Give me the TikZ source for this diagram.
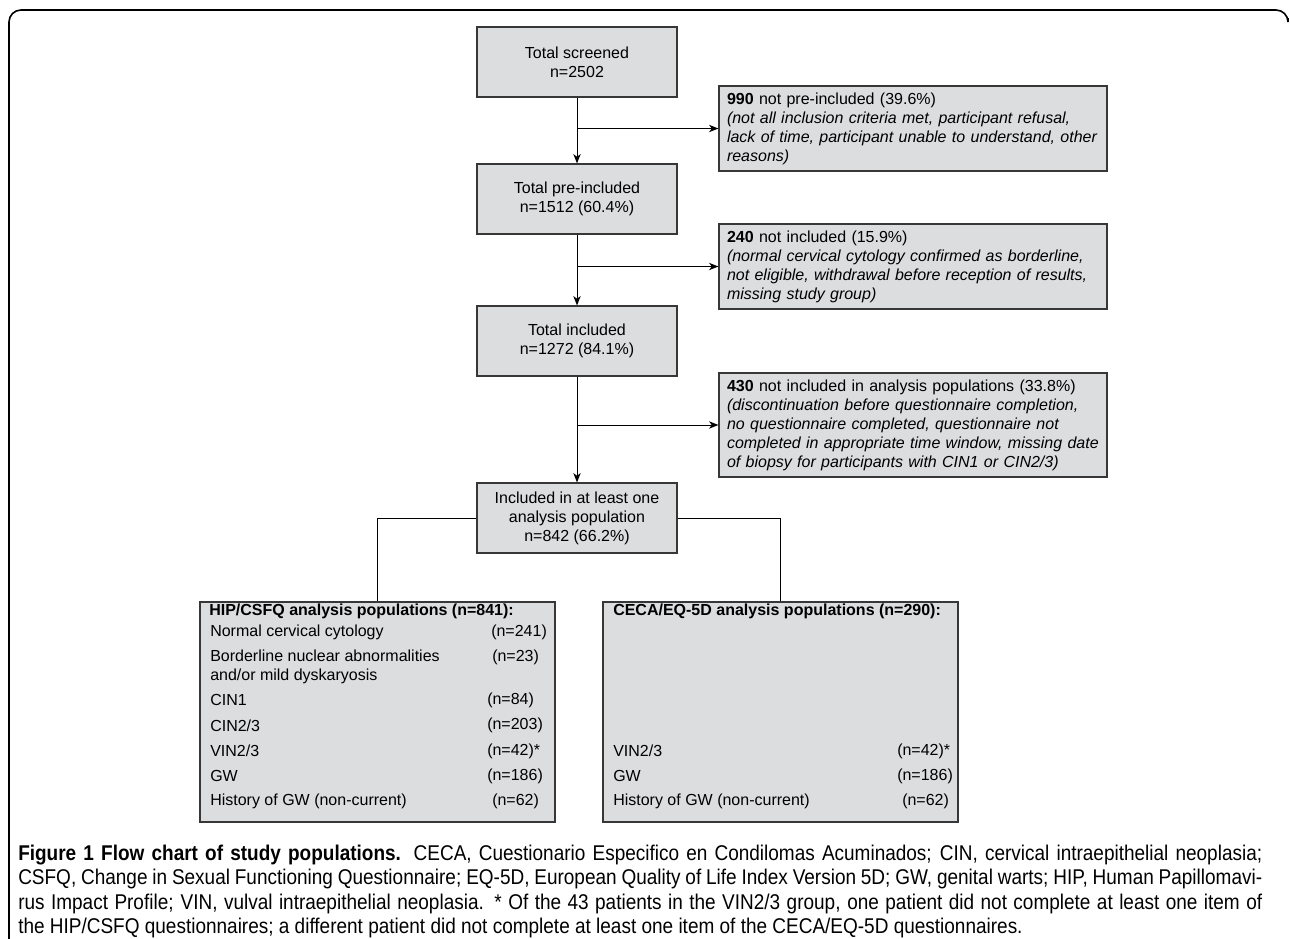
\documentclass[tikz,border=0pt]{standalone}
\usepackage{fontspec}
\setmainfont{Liberation Sans}
\newfontfamily\capfont{Liberation Sans}[FakeStretch=0.89]
\usetikzlibrary{arrows.meta}

\definecolor{boxfill}{RGB}{220,221,223}
\definecolor{boxline}{RGB}{55,55,55}

\begin{document}
\begin{tikzpicture}[x=0.75pt,y=0.75pt,yscale=-1,xscale=1,
  every node/.style={font=\fontsize{12}{14.25}\selectfont},
  mainbox/.style={draw=boxline,fill=boxfill,line width=0.9pt,minimum width=150pt,minimum height=52.5pt,align=center,inner sep=2pt},
  sidebox/.style={draw=boxline,fill=boxfill,line width=0.9pt,text width=279pt,inner xsep=6pt,align=left,minimum height=63.75pt},
  popbox/.style={draw=boxline,fill=boxfill,line width=0.9pt,minimum width=266.25pt,minimum height=165pt},
  rowtext/.style={anchor=west,inner sep=0pt,align=left},
  link/.style={line width=0.75pt},
  arr/.style={link,-{Stealth[length=7pt,width=5.5pt,inset=2pt]}}]
\useasboundingbox (0,0) rectangle (1290,939);

%Frame
\draw [line width=1.2pt,rounded corners=9pt] (9,939) -- (9,10) -- (1288,10) -- (1288,18) ;

%Main boxes
\node [mainbox] (screened) at (577,62) {Total screened\\n=2502};
\node [mainbox] (preinc) at (577,199) {Total pre-included\\n=1512 (60.4\%)};
\node [mainbox] (included) at (577,341) {Total included\\n=1272 (84.1\%)};
\node [mainbox] (analysis) at (577,518) {Included in at least one\\analysis population\\n=842 (66.2\%)};

%Side boxes
\node [sidebox] (notpre) at (913,128.5) {\textbf{990} not pre-included (39.6\%)\\
  \textit{(not all inclusion criteria met, participant refusal,}\\
  \textit{lack of time, participant unable to understand, other}\\
  \textit{reasons)}};
\node [sidebox] (notinc) at (913,266.5) {\textbf{240} not included (15.9\%)\\
  \textit{(normal cervical cytology confirmed as borderline,}\\
  \textit{not eligible, withdrawal before reception of results,}\\
  \textit{missing study group)}};
\node [sidebox,minimum height=78pt] (notanal) at (913,425) {\textbf{430} not included in analysis populations (33.8\%)\\
  \textit{(discontinuation before questionnaire completion,}\\
  \textit{no questionnaire completed, questionnaire not}\\
  \textit{completed in appropriate time window, missing date}\\
  \textit{of biopsy for participants with CIN1 or CIN2/3)}};

%Population boxes
\node [popbox] (hip) at (377.5,712) {};
\node [popbox] (ceca) at (780.5,712) {};

% Text Node
\node [rowtext] (hiptitle) at (209,611) {\textbf{HIP/CSFQ analysis populations (n=841):}};
\node [rowtext] (hipnormal) at (210,632) {Normal cervical cytology};
\node [rowtext] (hipnormaln) at (491,632) {(n=241)};
\node [rowtext] (hipborder) at (210,666.5) {Borderline nuclear abnormalities\\and/or mild dyskaryosis};
\node [rowtext] (hipbordern) at (492,657) {(n=23)};
\node [rowtext] (hipcin) at (210,700) {CIN1};
\node [rowtext] (hipcinn) at (487,700) {(n=84)};
\node [rowtext] (hipcinb) at (210,725.5) {CIN2/3};
\node [rowtext] (hipcinbn) at (487,725.5) {(n=203)};
\node [rowtext] (hipvin) at (210,751) {VIN2/3};
\node [rowtext] (hipvinn) at (487,751) {(n=42)*};
\node [rowtext] (hipgw) at (210,776) {GW};
\node [rowtext] (hipgwn) at (487,776) {(n=186)};
\node [rowtext] (hiphist) at (210,801) {History of GW (non-current)};
\node [rowtext] (hiphistn) at (492,801) {(n=62)};

% Text Node
\node [rowtext] (cecatitle) at (613,611) {\textbf{CECA/EQ-5D analysis populations (n=290):}};
\node [rowtext] (cecavin) at (613,751) {VIN2/3};
\node [rowtext] (cecavinn) at (897,751) {(n=42)*};
\node [rowtext] (cecagw) at (613,776) {GW};
\node [rowtext] (cecagwn) at (897,776) {(n=186)};
\node [rowtext] (cecahist) at (613,801) {History of GW (non-current)};
\node [rowtext] (cecahistn) at (902,801) {(n=62)};

%Straight Lines
\draw [arr] (screened) -- (preinc) ;
\draw [arr] (screened.south |- notpre.west) -- (notpre.west) ;
\draw [arr] (preinc) -- (included) ;
\draw [arr] (preinc.south |- notinc.west) -- (notinc.west) ;
\draw [arr] (included) -- (analysis) ;
\draw [arr] (included.south |- notanal.west) -- (notanal.west) ;
\draw [link] (analysis.west) -| (hip.north) ;
\draw [link] (analysis.east) -| (ceca.north) ;

% Caption
\node [anchor=base west,inner sep=0pt,text width=933pt,align=justify,font=\capfont\fontsize{16}{18.4}\selectfont] (caption) at (18,860)
  {\textbf{Figure 1 Flow chart of study populations.} CECA, Cuestionario Especifico en Condilomas Acuminados; CIN, cervical intraepithelial neoplasia;\linebreak
  CSFQ, Change in Sexual Functioning Questionnaire; EQ-5D, European Quality of Life Index Version 5D; GW, genital warts; HIP, Human Papillomavi-\linebreak
  rus Impact Profile; VIN, vulval intraepithelial neoplasia. * Of the 43 patients in the VIN2/3 group, one patient did not complete at least one item of\linebreak
  the HIP/CSFQ questionnaires; a different patient did not complete at least one item of the CECA/EQ-5D questionnaires.};

\end{tikzpicture}
\end{document}
